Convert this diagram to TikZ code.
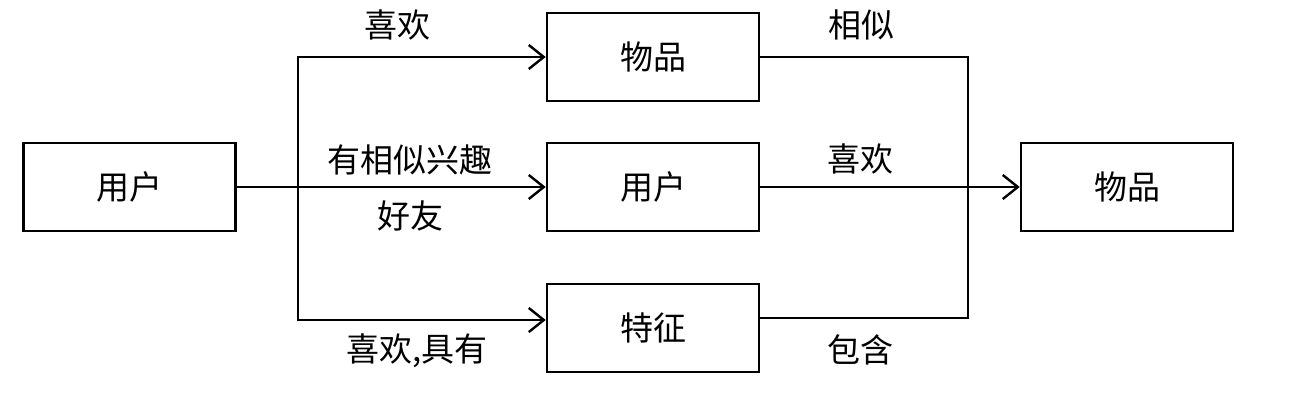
\documentclass[tikz,border=0pt]{standalone}
\usepackage{fontspec}
\setmainfont{Noto Sans CJK SC}
\usetikzlibrary{arrows.meta}
\begin{document}
\begin{tikzpicture}[x=1pt,y=-1pt,
  box/.style={draw,line width=2.6pt,minimum width=212pt,minimum height=88pt,inner sep=0pt,
    font=\fontsize{33}{38}\selectfont},
  lbl/.style={inner sep=0pt,font=\fontsize{33}{38}\selectfont},
  conn/.style={line width=2.4pt},
  arr/.style={conn,-{Straight Barb[length=15pt,width=24pt]}}]
\useasboundingbox[fill=white] (0,0) rectangle (1292,413);
\node[box] (u1) at (129.5,187) {用户};
\node[box] (i1) at (653,57) {物品};
\node[box] (u2) at (653,187) {用户};
\node[box] (f) at (653,328) {特征};
\node[box] (i2) at (1127,187) {物品};
\coordinate (bl) at (298,187);
\coordinate (br) at (968,187);
\draw[arr] (u1) -- (u2);
\draw[arr] (bl) |- (i1.west);
\draw[arr] (bl) |- ([yshift=8pt]f.west);
\draw[conn] (i1.east) -| (br);
\draw[conn] ([yshift=10pt]f.east) -| (br);
\draw[arr] (u2) -- (i2);
\node[lbl] (t1) at (397,25) {喜欢};
\node[lbl] (t2) at (410,160) {有相似兴趣};
\node[lbl] (t3) at (410,216) {好友};
\node[lbl] (t4) at (417,351) {喜欢,具有};
\node[lbl] (t5) at (861,25) {相似};
\node[lbl] (t6) at (860,159) {喜欢};
\node[lbl] (t7) at (860,350) {包含};
\end{tikzpicture}
\end{document}
